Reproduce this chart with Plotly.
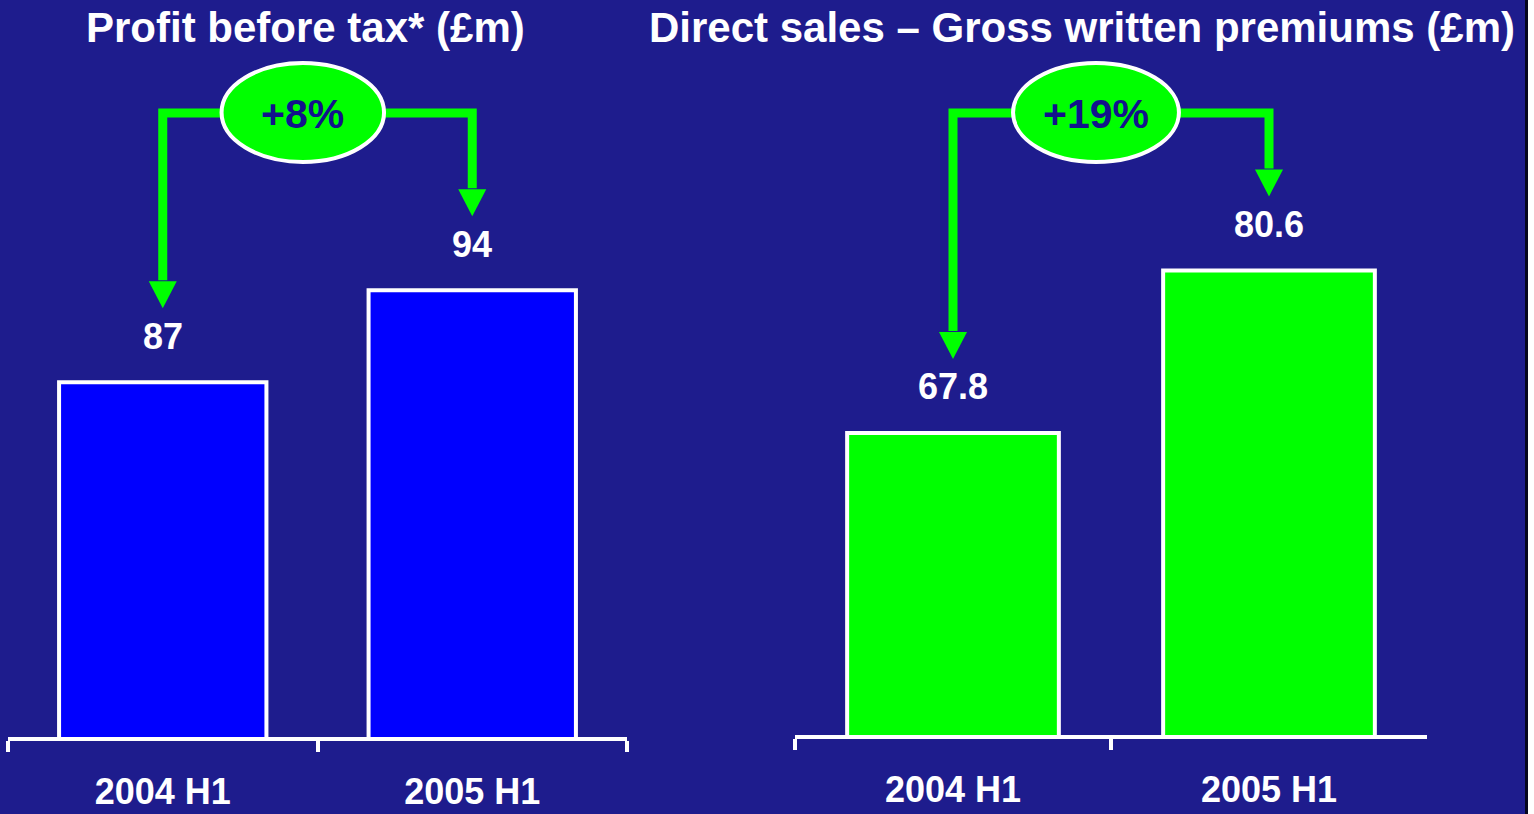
import plotly.graph_objects as go

# ---------------- data ----------------
categories = ["2004 H1", "2005 H1"]
profit_before_tax = [87, 94]
gross_written_premiums = [67.8, 80.6]
growth_labels = ["+8%", "+19%"]
chart_titles = ["Profit before tax* (£m)", "Direct sales \u2013 Gross written premiums (£m)"]

# ---------------- styling / layout ----------------
W, H = 1534, 814
BG = "#1e1c8d"
GREEN = "#00ff00"
NAVY = "#12128c"
FONT = "Liberation Sans, Arial, Helvetica, sans-serif"

panels = [
    dict(values=profit_before_tax, color="#0000ff", x0px=8, x1px=627, base_px=737,
         ymin=60, pxper=13.14, title_cx=305, label=growth_labels[0], title=chart_titles[0]),
    dict(values=gross_written_premiums, color="#00ff00", x0px=795, x1px=1427, base_px=735,
         ymin=44, pxper=12.69, title_cx=1082, label=growth_labels[1], title=chart_titles[1]),
]

fig = go.Figure()
shapes = []
annotations = []
layout_axes = {}

for i, p in enumerate(panels):
    sfx = "" if i == 0 else str(i + 1)
    xa, ya = "x" + sfx, "y" + sfx
    ymax = p["ymin"] + p["base_px"] / p["pxper"]
    cat_px = (p["x1px"] - p["x0px"]) / 2.0

    def y_of_px(py, p=p):
        return p["ymin"] + (p["base_px"] - py) / p["pxper"]

    fig.add_trace(go.Bar(
        x=categories, y=p["values"], xaxis=xa, yaxis=ya,
        marker=dict(color=p["color"], line=dict(color="white", width=4)),
        showlegend=False, hoverinfo="x+y",
    ))

    layout_axes["xaxis" + sfx] = dict(
        domain=[p["x0px"] / W, p["x1px"] / W], anchor=ya, type="category",
        showline=True, linecolor="white", linewidth=4,
        ticks="outside", tickson="boundaries", ticklen=11, tickwidth=4, tickcolor="white",
        showgrid=False, ticklabelstandoff=20,
        tickfont=dict(family=FONT, size=36, color="white", weight="bold"),
        fixedrange=True,
    )
    layout_axes["yaxis" + sfx] = dict(
        domain=[(H - p["base_px"]) / H, 1], anchor=xa, range=[p["ymin"], ymax],
        visible=False, showgrid=False, fixedrange=True,
    )

    # value labels
    for c, v in zip(categories, p["values"]):
        annotations.append(dict(
            x=c, y=v, xref=xa, yref=ya, yshift=46, yanchor="middle", showarrow=False,
            text=f"{v:g}", font=dict(family=FONT, size=36, color="white", weight="bold"),
        ))

    # growth connector arrows
    level = y_of_px(113)
    head_h = 27 / p["pxper"]
    hw = 14 / cat_px
    ex0, ex1 = 0.19, 0.715
    for j, (xc, xe) in enumerate([(0, ex0 + 0.1), (1, ex1 - 0.1)]):
        v = p["values"][j]
        tip = v + 74 / p["pxper"]
        head_base = tip + head_h
        shapes.append(dict(
            type="path", xref=xa, yref=ya,
            path=f"M {xe},{level} L {xc},{level} L {xc},{head_base + 1 / p['pxper']}",
            line=dict(color=GREEN, width=9), layer="above",
        ))
        shapes.append(dict(
            type="path", xref=xa, yref=ya,
            path=f"M {xc - hw},{head_base} L {xc + hw},{head_base} L {xc},{tip} Z",
            fillcolor=GREEN, line=dict(width=0), layer="above",
        ))
    shapes.append(dict(
        type="circle", xref=xa, yref=ya, x0=ex0, x1=ex1,
        y0=y_of_px(162), y1=y_of_px(63),
        fillcolor=GREEN, line=dict(color="white", width=4), layer="above",
    ))
    annotations.append(dict(
        x=(ex0 + ex1) / 2, y=y_of_px(114), xref=xa, yref=ya, showarrow=False,
        text=p["label"], font=dict(family=FONT, size=41, color=NAVY, weight="bold"),
    ))

    # chart title
    annotations.append(dict(
        x=p["title_cx"] / W, y=1 - 27 / H, xref="paper", yref="paper",
        xanchor="center", yanchor="middle", showarrow=False, text=p["title"],
        font=dict(family=FONT, size=42, color="white", weight="bold"),
    ))

# right edge of the slide image
shapes.append(dict(type="rect", xref="paper", yref="paper", x0=1525 / W, x1=1528 / W,
                   y0=0, y1=1, fillcolor="#05051e", line=dict(width=0), layer="below"))
shapes.append(dict(type="rect", xref="paper", yref="paper", x0=1528 / W, x1=1,
                   y0=0, y1=1, fillcolor="white", line=dict(width=0), layer="below"))

fig.update_layout(
    width=W, height=H, margin=dict(l=0, r=0, t=0, b=0),
    paper_bgcolor=BG, plot_bgcolor="rgba(0,0,0,0)",
    bargap=0.33, showlegend=False,
    shapes=shapes, annotations=annotations,
    **layout_axes,
)

fig.write_html("out.html", config={"displayModeBar": False})
